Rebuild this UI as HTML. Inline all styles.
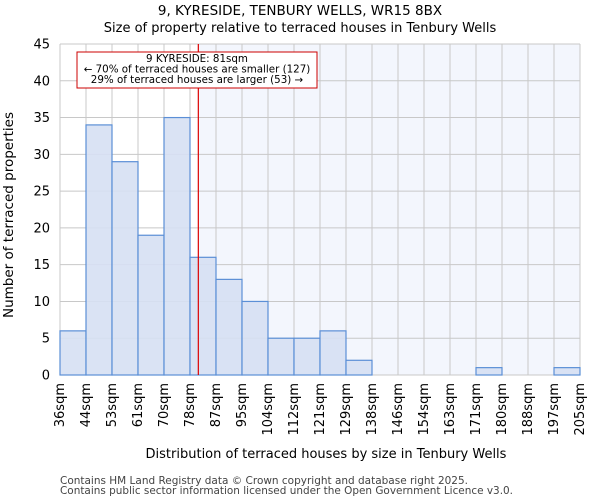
<!DOCTYPE html>
<html><head><meta charset="utf-8"><style>
body{margin:0;background:#fff;font-family:"DejaVu Sans","Liberation Sans",sans-serif}
</style></head><body>
<svg width="600" height="500" xmlns="http://www.w3.org/2000/svg" font-family="DejaVu Sans, Liberation Sans, sans-serif">
<text x="300" y="15" text-anchor="middle" font-size="13.5">9, KYRESIDE, TENBURY WELLS, WR15 8BX</text>
<text x="300" y="32" text-anchor="middle" font-size="13">Size of property relative to terraced houses in Tenbury Wells</text>
<g id="plot"></g>
<text x="326" y="458" text-anchor="middle" font-size="13">Distribution of terraced houses by size in Tenbury Wells</text>
<text transform="translate(13,215) rotate(-90)" text-anchor="middle" font-size="13.5">Number of terraced properties</text>
<text x="60" y="484" font-size="10.5" fill="#444" textLength="408" lengthAdjust="spacingAndGlyphs">Contains HM Land Registry data © Crown copyright and database right 2025.</text>
<text x="60" y="494" font-size="10.5" fill="#444" textLength="453" lengthAdjust="spacingAndGlyphs">Contains public sector information licensed under the Open Government Licence v3.0.</text>
</svg>
<script>
const binLabels=["36sqm","44sqm","53sqm","61sqm","70sqm","78sqm","87sqm","95sqm","104sqm","112sqm","121sqm","129sqm","138sqm","146sqm","154sqm","163sqm","171sqm","180sqm","188sqm","197sqm","205sqm"];
const counts=[6,34,29,19,35,16,13,10,5,5,6,2,0,0,0,0,1,0,0,1];
const yTicks=[0,5,10,15,20,25,30,35,40,45];
const markerBinPos=[5.32];
const NS="http://www.w3.org/2000/svg";
const g=document.getElementById('plot');
const L=60,R=580,T=44,B=375,yMax=45;
const n=counts.length;
const bw=(R-L)/n;
const xs=i=>L+i*bw;
const ys=v=>B-(v/yMax)*(B-T);
function mk(tag,a){const e=document.createElementNS(NS,tag);for(const k in a)e.setAttribute(k,a[k]);g.appendChild(e);return e;}
const mx=xs(markerBinPos[0]);
let e=mk('rect',{x:mx,y:T,width:R-mx,height:B-T,fill:'#f3f6fd'});


for(const t of yTicks){
 e=mk('line',{x1:L,x2:R,y1:ys(t),y2:ys(t),stroke:'#c8c8c8','stroke-width':1});
 
 
 e=mk('text',{x:L-10,y:ys(t)+4.5,'text-anchor':'end','font-size':13});
 e.textContent=t;
 
 
}
for(let i=0;i<=n;i++){
 e=mk('line',{x1:xs(i),x2:xs(i),y1:T,y2:B,stroke:'#c8c8c8','stroke-width':1});
 
 
 const lx=xs(i)+4;
 e=mk('text',{x:lx,y:B+8,'text-anchor':'end','font-size':13,transform:`rotate(-90 ${lx} ${B+8})`});
 e.textContent=binLabels[i];
 
 
}
counts.forEach((c,i)=>{
 if(c<=0)return;
 e=mk('rect',{x:xs(i),y:ys(c),width:bw,height:B-ys(c),fill:'#d6e0f3','fill-opacity':0.9,stroke:'#5b8fd6','stroke-width':1.2});
 
 
});
e=mk('line',{x1:mx,x2:mx,y1:T,y2:B,stroke:'#d00','stroke-width':1.2});


e=mk('rect',{x:77,y:52,width:240,height:36,fill:'#fff',stroke:'#c00','stroke-width':1});


const lines=["9 KYRESIDE: 81sqm","← 70% of terraced houses are smaller (127)","29% of terraced houses are larger (53) →"];
lines.forEach((s,k)=>{
 e=mk('text',{x:197,y:62+k*10.5,'text-anchor':'middle','font-size':10.3});
 e.textContent=s;
 
 
});
</script>
</body></html>
